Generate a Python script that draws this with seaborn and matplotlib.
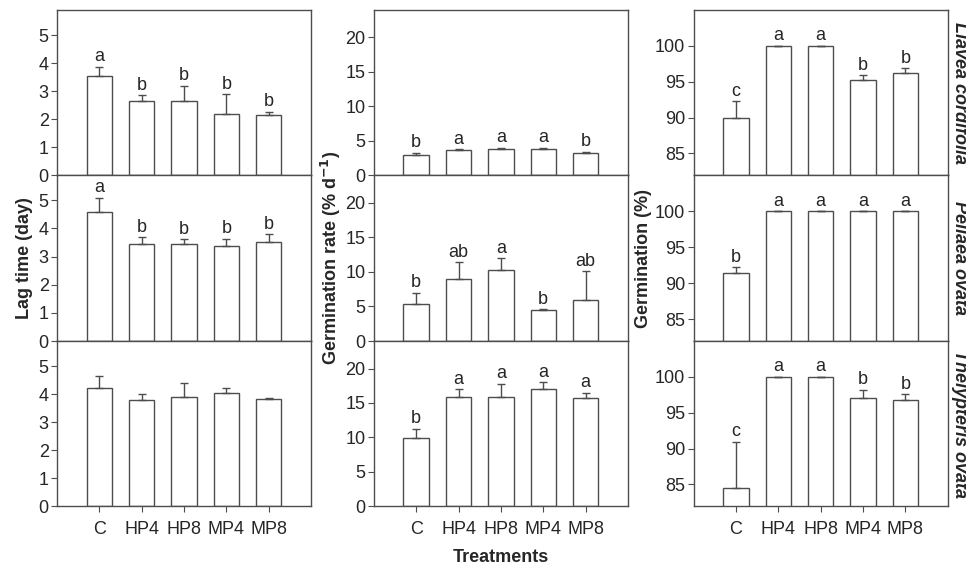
import pandas as pd
import numpy as np
import seaborn as sns
import matplotlib.pyplot as plt

# treatments and species
treatments = ['C', 'HP4', 'HP8', 'MP4', 'MP8']
species = ['Llavea cordifolia', 'Pellaea ovata', 'Thelypteris ovata']

# lag time (day): means, upper error, letters
lag_mean = [[3.55, 2.65, 2.65, 2.18, 2.13],
            [4.57, 3.45, 3.45, 3.36, 3.51],
            [4.23, 3.79, 3.89, 4.05, 3.81]]
lag_err = [[0.32, 0.21, 0.55, 0.72, 0.14],
           [0.52, 0.24, 0.17, 0.28, 0.29],
           [0.41, 0.23, 0.51, 0.17, 0.06]]
lag_letters = [['a', 'b', 'b', 'b', 'b'],
               ['a', 'b', 'b', 'b', 'b'],
               ['', '', '', '', '']]

# germination rate (% d-1)
rate_mean = [[2.97, 3.66, 3.75, 3.80, 3.22],
             [5.34, 8.93, 10.3, 4.50, 6.00],
             [9.96, 15.9, 15.8, 17.0, 15.7]]
rate_err = [[0.29, 0.10, 0.20, 0.15, 0.18],
            [1.66, 2.47, 1.70, 0.10, 4.05],
            [1.31, 1.10, 2.00, 1.05, 0.80]]
rate_letters = [['b', 'a', 'a', 'a', 'b'],
                ['b', 'ab', 'a', 'b', 'ab'],
                ['b', 'a', 'a', 'a', 'a']]

# germination (%)
germ_mean = [[90.0, 100, 100, 95.26, 96.24],
             [91.49, 100, 100, 100, 100],
             [84.45, 100, 100, 97.09, 96.77]]
germ_err = [[2.3, 0, 0, 0.64, 0.66],
            [0.7, 0, 0, 0, 0],
            [6.51, 0, 0, 1.15, 0.78]]
germ_letters = [['c', 'a', 'a', 'b', 'b'],
                ['b', 'a', 'a', 'a', 'a'],
                ['c', 'a', 'a', 'b', 'b']]

sns.set_style('ticks')
plt.rcParams['font.family'] = ['Liberation Sans', 'DejaVu Sans']
plt.rcParams['font.size'] = 13

edge = '#4d4d4d'
fig = plt.figure(figsize=(9.66, 5.71), dpi=100)

col_left = [0.059, 0.387, 0.718]
col_w = 0.263
row_bottom = [0.6935, 0.4028, 0.1138]
row_h = [0.289, 0.2907, 0.289]

variables = [(lag_mean, lag_err, lag_letters, (0, 5.9), [0, 1, 2, 3, 4, 5]),
             (rate_mean, rate_err, rate_letters, (0, 24), [0, 5, 10, 15, 20]),
             (germ_mean, germ_err, germ_letters, (82, 105), [85, 90, 95, 100])]

axes = {}
for c, (means, errs, letters, ylim, yticks) in enumerate(variables):
    for r in range(3):
        ax = fig.add_axes([col_left[c], row_bottom[r], col_w, row_h[r]])
        axes[(r, c)] = ax
        df = pd.DataFrame({'Treatment': treatments, 'value': means[r]})
        sns.barplot(data=df, x='Treatment', y='value', order=treatments,
                    color='white', edgecolor=edge, linewidth=1,
                    width=0.6, errorbar=None, ax=ax)
        xs = np.arange(len(treatments))
        # upper error only
        ax.errorbar(xs, means[r], yerr=[np.zeros(5), errs[r]], fmt='none',
                    ecolor=edge, elinewidth=1, capsize=3, capthick=1)
        for x, m, e, lab in zip(xs, means[r], errs[r], letters[r]):
            if lab:
                ax.annotate(lab, (x, m + e), xytext=(0, 1),
                            textcoords='offset points', ha='center',
                            va='bottom', fontsize=13)
        ax.set_xlim(-1, 5)
        ax.set_ylim(*ylim)
        ax.set_yticks(yticks)
        ax.set_xlabel('')
        ax.set_ylabel('')
        for s in ax.spines.values():
            s.set_visible(True)
            s.set_color(edge)
            s.set_linewidth(1)
        ax.tick_params(axis='y', direction='out', length=4, color=edge,
                       labelsize=13, pad=2)
        if r < 2:
            ax.tick_params(axis='x', bottom=False, labelbottom=False)
        else:
            ax.tick_params(axis='x', direction='out', length=4, color=edge,
                           labelsize=13, pad=7)

axes[(1, 0)].set_ylabel('Lag time (day)', fontweight='bold', fontsize=13,
                        labelpad=4)
axes[(1, 1)].set_ylabel('Germination rate (% d$^{\\mathbf{-1}}$)',
                        fontweight='bold', fontsize=13, labelpad=2)
axes[(1, 2)].set_ylabel('Germination (%)', fontweight='bold', fontsize=13,
                        labelpad=2)
axes[(2, 1)].set_xlabel('Treatments', fontweight='bold', fontsize=13,
                        labelpad=8)

for r, name in enumerate(species):
    ax = axes[(r, 2)]
    ax.text(1.045, 0.5, name, transform=ax.transAxes, rotation=270,
            ha='center', va='center', fontsize=13, fontweight='bold',
            fontstyle='italic')

fig.savefig('out.png', dpi=100)
